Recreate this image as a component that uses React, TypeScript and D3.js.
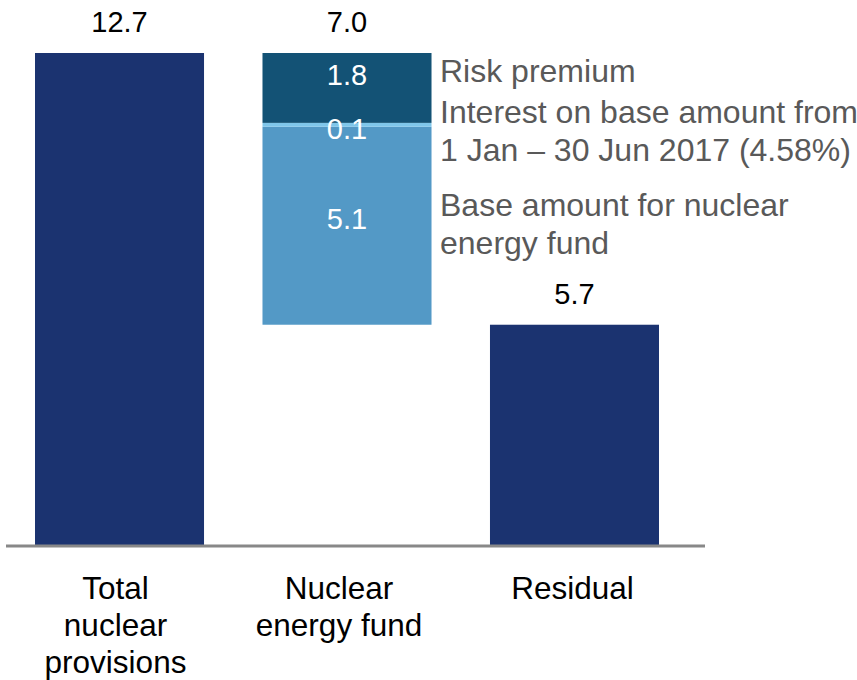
import React, { useEffect, useRef } from 'react';
import * as d3 from 'd3';

const categories = ['Total nuclear provisions', 'Nuclear energy fund', 'Residual'];
const categoryLines = [['Total', 'nuclear', 'provisions'], ['Nuclear', 'energy fund'], ['Residual']];
const totals = [12.7, 7.0, 5.7];
const residual = 5.7;

// stacked pieces of the fund bar, bottom to top
const fundParts = ['Base amount', 'Interest', 'Risk premium'];
const fundValues = [5.1, 0.1, 1.8];
const fundLabels = ['5.1', '0.1', '1.8'];
const legendLines = [
  ['Risk premium'],
  ['Interest on base amount from', '1 Jan \u2013 30 Jun 2017 (4.58%)'],
  ['Base amount for nuclear', 'energy fund'],
];

const NAVY = '#1b3370';
const partColors = ['#5399c6', '#7fc6ea', '#135275'];
const FONT = 'Arial, "Liberation Sans", sans-serif';

export default function App() {
  const svgRef = useRef<SVGSVGElement>(null);

  useEffect(() => {
    if (!svgRef.current) return;
    const svg = d3.select(svgRef.current);
    svg.selectAll('*').remove();

    const x = d3.scaleBand().domain(categories).range([35, 659]).paddingInner(0.257).paddingOuter(0);
    const y = d3.scaleLinear().domain([0, 12.7]).range([546, 53]);
    const bw = x.bandwidth();

    // total and residual bars
    const solid = [
      { cat: categories[0], v: totals[0] },
      { cat: categories[2], v: residual },
    ];
    svg.selectAll('.solid')
      .data(solid)
      .enter()
      .append('rect')
      .attr('x', (d) => x(d.cat) || 0)
      .attr('y', (d) => y(d.v))
      .attr('width', bw)
      .attr('height', (d) => y(0) - y(d.v))
      .attr('fill', NAVY);

    // floating stacked fund bar
    let acc = residual;
    const stack = fundValues.map((v, i) => {
      const s = { y0: acc, y1: acc + v, i };
      acc += v;
      return s;
    });
    const fundTop = acc;
    const fx = x(categories[1]) || 0;
    svg.selectAll('.part')
      .data(stack)
      .enter()
      .append('rect')
      .attr('x', fx)
      .attr('y', (d) => y(d.y1))
      .attr('width', bw)
      .attr('height', (d) => y(d.y0) - y(d.y1))
      .attr('fill', (d) => partColors[d.i]);

    // labels inside fund bar
    const inY = [229, 139, 85];
    stack.forEach((d, i) => {
      svg.append('text')
        .attr('x', fx + bw / 2)
        .attr('y', inY[i])
        .attr('text-anchor', 'middle')
        .style('font-family', FONT)
        .style('font-size', '29px')
        .style('fill', '#fff')
        .text(fundLabels[i]);
    });

    // value labels on top
    const tops = [totals[0], fundTop, residual];
    totals.forEach((v, i) => {
      svg.append('text')
        .attr('x', (x(categories[i]) || 0) + bw / 2)
        .attr('y', y(tops[i]) - 21)
        .attr('text-anchor', 'middle')
        .style('font-family', FONT)
        .style('font-size', '29px')
        .style('fill', '#000')
        .text(v.toFixed(1));
    });

    // baseline
    svg.append('line')
      .attr('x1', 6)
      .attr('x2', 705)
      .attr('y1', y(0))
      .attr('y2', y(0))
      .attr('stroke', '#888')
      .attr('stroke-width', 3);

    // category labels (text boxes sit a bit left of bar centres)
    const labelShift = [-4, -8, -2];
    categoryLines.forEach((lines, i) => {
      lines.forEach((l, j) => {
        svg.append('text')
          .attr('x', (x(categories[i]) || 0) + bw / 2 + labelShift[i])
          .attr('y', 599 + j * 37)
          .attr('text-anchor', 'middle')
          .style('font-family', FONT)
          .style('font-size', '31.5px')
          .style('fill', '#000')
          .text(l);
      });
    });

    // legend text on the right
    const legY = [82, 123, 216];
    legendLines.forEach((lines, i) => {
      lines.forEach((l, j) => {
        svg.append('text')
          .attr('x', 440)
          .attr('y', legY[i] + j * 38)
          .style('font-family', FONT)
          .style('font-size', '32px')
          .style('fill', '#595959')
          .text(l);
      });
    });
  }, []);

  return (
    <svg
      ref={svgRef}
      width={857}
      height={680}
      style={{ position: 'absolute', left: 0, top: 0, background: '#fff' }}
    ></svg>
  );
}
